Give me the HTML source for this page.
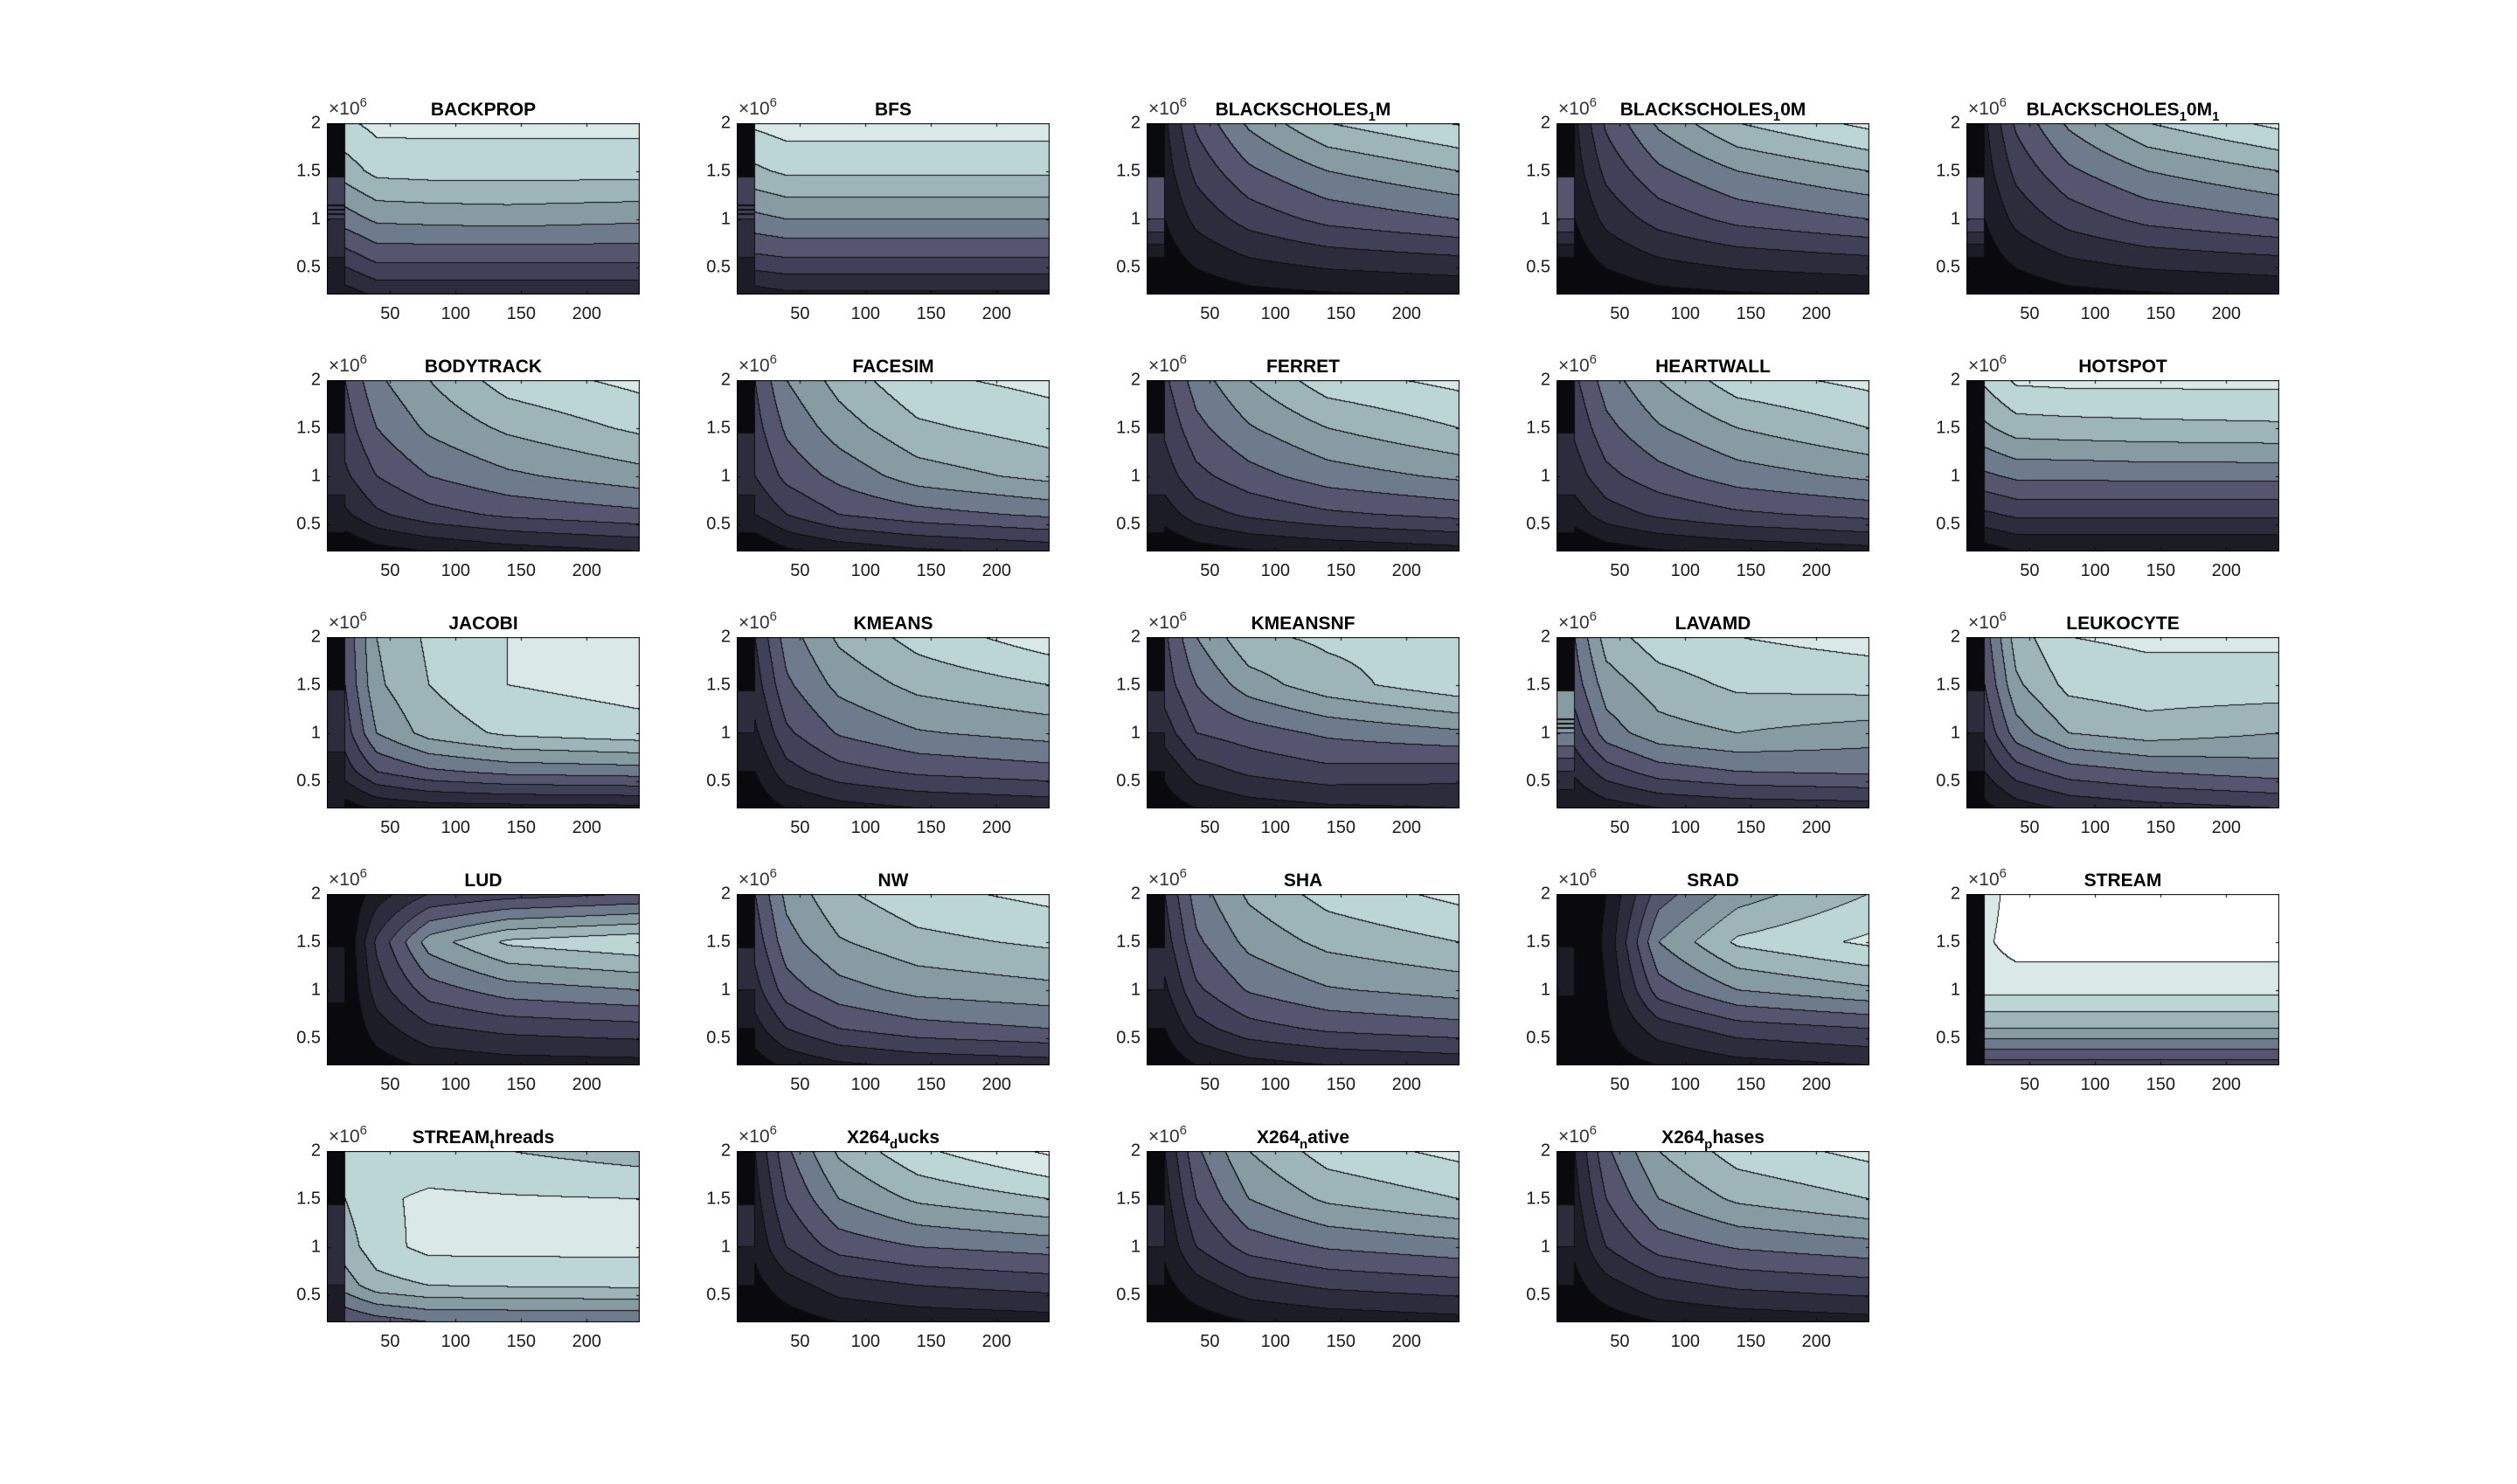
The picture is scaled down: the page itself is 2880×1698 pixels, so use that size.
<!DOCTYPE html>
<html><head><meta charset="utf-8">
<style>
html,body{margin:0;padding:0;background:#fff;}
body{width:2880px;height:1698px;position:relative;overflow:hidden;font-family:"Liberation Sans",sans-serif;}
.ax{position:absolute;}
.ax canvas{position:absolute;left:0;top:0;}
.t{position:absolute;white-space:nowrap;color:#1a1a1a;}
.tt{font-weight:bold;font-size:21px;transform:translateX(-50%);color:#000;}
.tt sub{font-size:15px;vertical-align:-6px;line-height:0;}
.xt{font-size:20px;transform:translateX(-50%);}
.yt{font-size:20px;transform:translate(-100%,-50%);}
.ex{font-size:21px;color:#333;}
.ex sup{font-size:15px;vertical-align:9px;line-height:0;}
</style></head><body>
<script>
// ---- shared grid definitions ----
const xs=[16,40,80,140,240];
const ys=[0.22,0.6,1.0,1.5,2.0];
const stripYs=[0.22,0.6,1.0,1.44,1.46,2.0];
const xTicks=[50,100,150,200];
const yTicks=[0.5,1,1.5,2];
const yTickLabels=["0.5","1","1.5","2"];
const titles=["BACKPROP","BFS","BLACKSCHOLES<sub>1</sub>M","BLACKSCHOLES<sub>1</sub>0M","BLACKSCHOLES<sub>1</sub>0M<sub>1</sub>",
"BODYTRACK","FACESIM","FERRET","HEARTWALL","HOTSPOT",
"JACOBI","KMEANS","KMEANSNF","LAVAMD","LEUKOCYTE",
"LUD","NW","SHA","SRAD","STREAM",
"STREAM<sub>t</sub>hreads","X264<sub>d</sub>ucks","X264<sub>n</sub>ative","X264<sub>p</sub>hases"];
const names=["backprop","bfs","blackscholes-1m","blackscholes-10m","blackscholes-10m1","bodytrack","facesim","ferret","heartwall","hotspot","jacobi","kmeans","kmeansnf","lavamd","leukocyte","lud","nw","sha","srad","stream","stream-threads","x264-ducks","x264-native","x264-phases"];
// level grids: rows bottom(y=0.22) -> top(y=2.0), cols x=16,40,80,140,240
const z_backprop=[[1.5,2.2,2.2,2.2,2.2],[3.5,4.3,4.3,4.3,4.3],[5.5,6.2,6.3,6.4,6.2],[7.5,8.3,8.4,8.4,8.4],[8.8,9.3,9.3,9.3,9.3]];
const z_bfs=[[1.5,1.8,1.8,1.8,1.8],[3.8,4.0,4.0,4.0,4.0],[5.7,6.0,6.0,6.0,6.0],[7.8,8.2,8.2,8.2,8.2],[9.2,9.5,9.5,9.5,9.5]];
const z_bs1=[[0,0.3,0.7,0.9,1.1],[0.5,1.3,2.0,2.5,2.9],[1.0,2.3,3.4,4.3,5.0],[1.5,3.3,4.8,6.0,7.0],[1.8,4.2,6.2,8.0,9.1]];
const z_bs2=[[0,0.3,0.7,0.9,1.1],[0.5,1.3,2.0,2.5,2.9],[1.0,2.3,3.4,4.3,5.0],[1.5,3.3,4.8,6.0,7.0],[1.8,4.2,6.2,8.0,9.3]];
const z_bs3=[[0,0.3,0.7,0.9,1.1],[0.5,1.3,2.0,2.5,2.9],[1.0,2.3,3.4,4.3,5.0],[1.5,3.3,4.8,6.0,7.0],[1.8,4.2,6.2,8.0,9.3]];
const z_bodytrack=[[0,0.6,1.0,1.5,2.0],[1.8,2.8,3.6,4.2,4.7],[2.8,4.0,5.0,5.8,6.6],[3.5,5.0,6.2,7.2,8.2],[4.0,5.8,7.0,8.5,9.3]];
const z_facesim=[[0,0.8,1.3,1.8,2.3],[2.0,3.0,4.0,4.6,5.2],[3.0,4.3,5.3,6.5,7.3],[3.6,5.2,6.5,7.8,8.5],[4.0,6.0,7.4,8.8,9.3]];
const z_ferret=[[0,0.5,0.9,1.2,1.6],[1.5,2.5,3.2,3.8,4.3],[2.5,3.7,4.6,5.5,6.2],[3.2,4.7,5.9,7.0,8.0],[3.8,5.5,7.0,8.6,9.3]];
const z_heartwall=[[0,0.5,0.9,1.2,1.6],[1.5,2.5,3.2,3.8,4.3],[2.5,3.7,4.6,5.5,6.2],[3.2,4.7,5.9,7.0,8.0],[3.8,5.5,7.0,8.6,9.3]];
const z_hotspot=[[0.5,1.0,1.0,1.0,1.0],[2.8,3.2,3.2,3.2,3.2],[4.8,5.2,5.2,5.3,5.3],[6.8,7.5,7.6,7.7,7.8],[8.2,9.2,9.3,9.3,9.3]];
const z_jacobi=[[0.5,1.2,1.5,1.6,1.7],[2.5,4.0,4.8,5.3,5.5],[3.5,6.0,7.4,8.2,8.6],[4.0,6.8,8.0,9.0,9.4],[4.2,7.0,8.2,9.0,9.5]];
const z_kmeans=[[0.3,1.0,1.6,2.0,2.3],[1.0,2.6,3.6,4.2,4.6],[1.8,3.8,5.1,5.9,6.4],[2.5,4.8,6.3,7.3,8.0],[3.0,5.5,7.2,8.4,9.6]];
const z_kmeansnf=[[0.5,1.0,1.5,1.8,2.0],[1.2,2.5,3.2,3.7,3.5],[2.5,4.0,4.5,5.2,5.8],[3.5,5.0,6.5,7.6,8.7],[3.8,6.0,7.8,8.2,8.4]];
const z_lavamd=[[1.0,1.5,2.0,2.3,2.5],[2.2,3.5,4.5,5.0,5.2],[3.5,5.5,6.6,7.0,6.5],[4.5,6.5,7.5,8.2,8.4],[5.0,7.5,8.6,9.0,9.4]];
const z_leukocyte=[[0.7,1.5,2.2,2.6,3.0],[2.0,3.5,4.5,5.0,5.5],[3.2,5.5,7.0,7.5,7.0],[4.0,6.8,8.3,8.6,8.6],[4.5,7.5,9.0,9.2,9.2]];
const z_lud=[[0,0.5,1.2,1.5,1.6],[0,1.5,2.8,3.3,3.6],[0,2.5,4.5,5.5,6.0],[0,3.2,6.5,8.2,8.8],[0,1.5,3.0,3.5,4.0]];
const z_nw=[[0.5,1.2,1.8,2.2,2.5],[1.6,3.0,4.0,4.6,5.0],[2.6,4.5,5.6,6.3,6.7],[3.4,5.6,6.9,7.7,8.2],[4.0,6.3,7.8,8.7,9.3]];
const z_sha=[[0.3,1.0,1.6,2.0,2.3],[1.0,2.6,3.6,4.2,4.6],[1.8,3.8,5.1,5.9,6.4],[2.5,4.8,6.3,7.3,8.0],[3.0,5.5,7.2,8.4,9.3]];
const z_srad=[[0,0.5,1.0,1.6,2.0],[0,0.8,2.5,3.5,4.0],[0,1.0,4.5,6.0,6.8],[0,1.2,6.0,8.2,9.2],[0,1.0,4.5,6.5,8.0]];
const z_stream=[[3.5,3.5,3.5,3.5,3.5],[7.0,7.0,7.0,7.0,7.0],[9.3,9.3,9.3,9.3,9.3],[9.8,10.5,10.5,10.5,10.5],[9.5,10.5,10.5,10.5,10.5]];
const z_streamthreads=[[4.0,4.5,5.0,5.0,5.0],[6.5,7.6,8.0,8.1,8.2],[7.5,8.6,9.3,9.3,9.3],[8.0,8.8,9.2,9.1,9.0],[8.2,8.4,8.3,8.0,7.5]];
const z_x264d=[[0.2,0.5,1.0,1.3,1.5],[0.7,1.5,2.5,3.0,3.4],[1.2,3.0,4.4,5.0,5.4],[1.6,4.0,6.0,7.2,8.0],[2.0,4.8,7.2,8.8,10.2]];
const z_x264n=[[0.2,0.5,1.0,1.3,1.6],[0.7,1.6,2.6,3.2,3.6],[1.2,3.0,4.4,5.1,5.6],[1.6,4.0,6.0,7.2,8.0],[2.0,4.8,7.0,8.5,9.3]];
const z_x264p=[[0.2,0.5,1.0,1.3,1.6],[0.7,1.6,2.6,3.2,3.6],[1.2,3.0,4.4,5.1,5.6],[1.6,4.0,6.0,7.2,8.0],[2.0,4.8,7.0,8.5,9.3]];
const grids=[z_backprop,z_bfs,z_bs1,z_bs2,z_bs3,z_bodytrack,z_facesim,z_ferret,z_heartwall,z_hotspot,z_jacobi,z_kmeans,z_kmeansnf,z_lavamd,z_leukocyte,z_lud,z_nw,z_sha,z_srad,z_stream,z_streamthreads,z_x264d,z_x264n,z_x264p];
// left strip (x<16) levels at stripYs
const strips=[[1,2,3,3,0,0],[1,2,3,3,0,0],[0.5,1,4,4,0,0],[0.5,1,4,4,0,0],[0.5,1,4,4,0,0],
[0.5,1.5,2.5,2.5,0,0],[0.5,1.5,2.5,2.5,0,0],[0.5,1.5,2.5,2.5,0,0],[0.5,1.5,2.5,2.5,0,0],[0,0.5,0.5,0.5,0,0],
[1,1.5,2.5,2.5,0,0],[0.5,1,2,2,0,0],[0.5,1,2,2,0,0],[1,3,6,6,0,0],[0.5,1,2,2,0,0],
[0,0,1.5,1.5,0,0],[0.5,1,2,2,0,0],[0.5,1,2,2,0,0],[0,0,1.2,1.2,0,0],[0,0,0,0,0,0],
[1,2,2,2,0,0],[0.5,1,2,2,0,0],[0.5,1,2,2,0,0],[0.5,1,2,2,0,0]];
const palette=[[10,10,14],[28,28,38],[44,44,60],[64,64,88],[85,85,111],[110,123,141],[135,155,162],[157,181,184],[188,213,213],[218,232,232],[255,255,255]];

const lefts=[374,843,1312,1781,2250];
const tops=[141,435,729,1023,1317];
const W=358,H=196,X0=1.7,X1=240.5,Y0=0.22,Y1=2.0;
function sx(x){return (x-X0)/(X1-X0)*W;}
function sy(y){return H-(y-Y0)/(Y1-Y0)*H;}
function seg(arr,v){
  if(v<=arr[0])return [0,0];
  for(let i=0;i<arr.length-1;i++){ if(v<=arr[i+1]) return [i,(v-arr[i])/(arr[i+1]-arr[i])]; }
  return [arr.length-2,1];
}
function valueAt(g,s,x,y){
  if(x<16){const [i,t]=seg(stripYs,y);return s[i]*(1-t)+s[i+1]*t;}
  const [j,u]=seg(xs,x);const [i,t]=seg(ys,y);
  const a=g[i][j]*(1-u)+g[i][j+1]*u;const b=g[i+1][j]*(1-u)+g[i+1][j+1]*u;
  return a*(1-t)+b*t;
}
function addText(parent,cls,html,left,top,name){
  const d=document.createElement('div');
  d.className='t '+cls;d.innerHTML=html;d.style.left=left+'px';d.style.top=top+'px';
  
  
  parent.appendChild(d);return d;
}
for(let k=0;k<grids.length;k++){
  const r=Math.floor(k/5),c=k%5;
  const L=lefts[c],T=tops[r];
  const ax=document.createElement('div');
  ax.className='ax';ax.style.left=L+'px';ax.style.top=T+'px';ax.style.width=W+'px';ax.style.height=H+'px';
  
  
  document.body.appendChild(ax);
  const cv=document.createElement('canvas');cv.width=W;cv.height=H;
  
  
  ax.appendChild(cv);
  const ctx=cv.getContext('2d');const img=ctx.createImageData(W,H);
  const band=new Int8Array(W*H);
  for(let py=0;py<H;py++){const y=Y1-(py+0.5)/H*(Y1-Y0);
    for(let px=0;px<W;px++){const x=X0+(px+0.5)/W*(X1-X0);
      let b=Math.floor(valueAt(grids[k],strips[k],x,y));b=Math.max(0,Math.min(10,b));band[py*W+px]=b;}}
  for(let py=0;py<H;py++)for(let px=0;px<W;px++){
    const i=py*W+px;const b=band[i];let col=palette[b];
    if((px<W-1&&band[i+1]!==b)||(py<H-1&&band[i+W]!==b))col=[12,12,14];
    img.data[i*4]=col[0];img.data[i*4+1]=col[1];img.data[i*4+2]=col[2];img.data[i*4+3]=255;}
  ctx.putImageData(img,0,0);
  ctx.strokeStyle='#000';ctx.lineWidth=1;ctx.strokeRect(0.5,0.5,W-1,H-1);
  ctx.beginPath();
  xTicks.forEach(v=>{const X=Math.round(sx(v))+0.5;ctx.moveTo(X,H);ctx.lineTo(X,H-4);ctx.moveTo(X,0);ctx.lineTo(X,4);});
  yTicks.forEach(v=>{const Y=Math.round(sy(v))+0.5;ctx.moveTo(0,Y);ctx.lineTo(4,Y);ctx.moveTo(W,Y);ctx.lineTo(W-4,Y);});
  ctx.stroke();
  addText(document.body,'tt',titles[k],L+W/2,T-27,names[k]+'-title');
  addText(document.body,'ex','×10<sup>6</sup>',L+2,T-28,names[k]+'-y-exponent');
  xTicks.forEach(v=>{addText(document.body,'xt',String(v),L+sx(v),T+H+11,names[k]+'-x-tick-label');});
  yTicks.forEach((v,ii)=>{addText(document.body,'yt',yTickLabels[ii],L-7,T+sy(v),names[k]+'-y-tick-label');});
}
</script>
</body></html>
